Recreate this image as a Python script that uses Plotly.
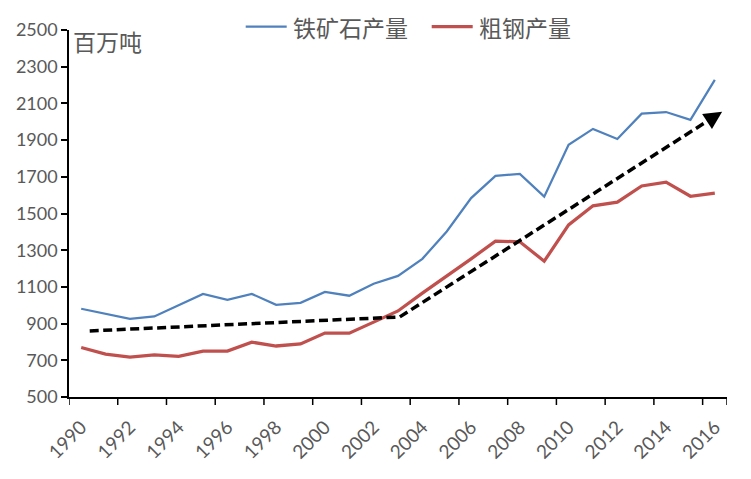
import plotly.graph_objects as go

years = list(range(1990, 2017))
iron_ore = [981, 953, 926, 939, 1001, 1062, 1030, 1062, 1002, 1013, 1073, 1052,
            1117, 1160, 1253, 1402, 1584, 1705, 1716, 1592, 1875, 1961, 1906,
            2044, 2053, 2010, 2228]
crude_steel = [770, 734, 718, 729, 721, 750, 750, 799, 778, 789, 848, 848,
               908, 969, 1066, 1157, 1253, 1349, 1346, 1240, 1438, 1542, 1562,
               1650, 1671, 1594, 1611]
trend_years = [1990.35, 2003.07, 2016.3]
trend_values = [860, 936, 2055]
label_years = list(range(1990, 2017, 2))
boundary_ticks = [y - 0.5 for y in label_years] + [2016.5]
y_ticks = list(range(500, 2501, 200))
series_names = ["铁矿石产量", "粗钢产量"]
series_colors = ["#4F81BD", "#C0504D"]
unit_label = "百万吨"

GRAY = "#595959"
FONT = "Lato, Noto Sans CJK SC, sans-serif"
CJK = "Noto Sans CJK SC, sans-serif"

# plot-area geometry (pixels)
X0, X1, YT, YB = 69.3, 727.3, 30.0, 397.3
W, H = 751, 479


def px(x):
    return (x - X0) / (X1 - X0)


def py(y):
    return (YB - y) / (YB - YT)


fig = go.Figure()
fig.add_trace(go.Scatter(x=years, y=iron_ore, mode="lines", name=series_names[0],
                         line=dict(color=series_colors[0], width=2.25)))
fig.add_trace(go.Scatter(x=years, y=crude_steel, mode="lines", name=series_names[1],
                         line=dict(color=series_colors[1], width=3.25)))
fig.add_trace(go.Scatter(x=trend_years[:-1] + [trend_years[-1] - 0.3],
                         y=trend_values[:-1] + [trend_values[-1] - 26],
                         mode="lines", showlegend=False,
                         line=dict(color="black", width=3.5, dash="9px,4.5px")))
fig.add_annotation(x=trend_years[-1], y=trend_values[-1],
                   ax=trend_years[-1] - 0.6, ay=trend_values[-1] - 52,
                   xref="x", yref="y", axref="x", ayref="y",
                   showarrow=True, arrowhead=2, arrowsize=1.2, arrowwidth=3,
                   arrowcolor="black", text="")

# category-boundary tick marks below the x axis
for b in boundary_ticks:
    fig.add_shape(type="line", xref="x", yref="paper", x0=b, x1=b,
                  y0=0, y1=-8 / (YB - YT), line=dict(color="black", width=1.5))

# unit label
fig.add_annotation(x=px(71), y=py(22), xref="paper", yref="paper", text=unit_label,
                   showarrow=False, xanchor="left", yanchor="top",
                   font=dict(family=CJK, size=23, color=GRAY))

# manual legend
legend_y = 26.7
sample_starts = [246, 432]
sample_len = 41
for name, color, sx, lw in zip(series_names, series_colors, sample_starts, [2.25, 3.25]):
    fig.add_shape(type="line", xref="paper", yref="paper",
                  x0=px(sx), x1=px(sx + sample_len), y0=py(legend_y), y1=py(legend_y),
                  line=dict(color=color, width=lw))
    fig.add_annotation(x=px(sx + sample_len + 4), y=py(legend_y), xref="paper", yref="paper",
                       text=name, showarrow=False, xanchor="left", yanchor="middle",
                       font=dict(family=CJK, size=23, color=GRAY))

fig.update_layout(
    width=W, height=H,
    margin=dict(l=X0, r=W - X1, t=YT, b=H - YB, autoexpand=False),
    paper_bgcolor="white", plot_bgcolor="white",
    font=dict(family=FONT, color=GRAY, size=18),
    showlegend=False,
    xaxis=dict(range=[1989.5, 2016.5], tickmode="array", tickvals=label_years,
               ticktext=[str(y) for y in label_years], tickangle=-45,
               ticks="", ticklabelstandoff=10,
               showgrid=False, zeroline=False, automargin=False,
               showline=True, linecolor="black", linewidth=1.5,
               tickfont=dict(family=FONT, size=19, color=GRAY)),
    yaxis=dict(range=[500, 2500], tickmode="array", tickvals=y_ticks,
               ticks="outside", ticklen=6, tickwidth=1.5, tickcolor="black",
               showgrid=False, zeroline=False, automargin=False,
               showline=True, linecolor="black", linewidth=1.5,
               tickfont=dict(family=FONT, size=18, color=GRAY)),
)
fig.write_html("out.html", config={"displayModeBar": False},
               post_script="document.body.style.margin='0';document.body.style.overflow='hidden';")
